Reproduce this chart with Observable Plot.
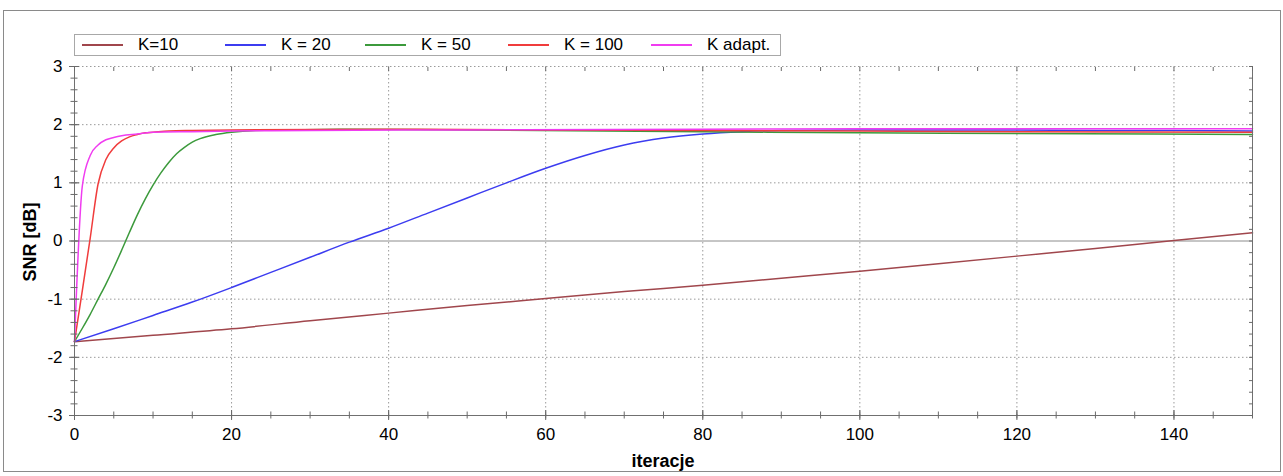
<!DOCTYPE html>
<html><head><meta charset="utf-8">
<script src="https://cdn.jsdelivr.net/npm/d3@7"></script>
<script src="https://cdn.jsdelivr.net/npm/@observablehq/plot@0.6"></script>
<style>
body{margin:0;background:#fff;font-family:"Liberation Sans",Arial,sans-serif;}
#wrap{position:relative;width:1283px;height:476px;overflow:hidden;}
#frame{position:absolute;left:3px;top:10px;width:1278px;height:462px;border:1px solid #8a8a8a;box-sizing:border-box;}
#chart{position:absolute;left:0;top:0;}
#legend{position:absolute;left:74px;top:34px;width:707px;height:22px;border:1px solid #a8a8a8;box-sizing:border-box;font-size:17px;background:#fff;}
.item{position:absolute;top:0;height:20px;display:flex;align-items:center;white-space:nowrap;}
.sw{width:41px;height:1.6px;margin-right:15px;}
.lab{position:absolute;font-weight:bold;font-size:18px;white-space:nowrap;}
</style></head>
<body>
<div id="wrap">
  <div id="frame"></div>
  <div id="chart"></div>
  <div id="legend"></div>
  <div class="lab" id="ylab" style="left:30px;top:242px;transform:translate(-50%,-50%) rotate(-90deg);">SNR [dB]</div>
  <div class="lab" id="xlab" style="left:663px;top:461px;transform:translate(-50%,-50%);">iteracje</div>
</div>
<script>
// ---- data ----
const seriesNames = ["K=10", "K = 20", "K = 50", "K = 100", "K adapt."];
const seriesColors = ["#a0464c", "#3c3cf0", "#3c9a3c", "#f03c3c", "#f03cf0"];

const iterK10 = [0,10,20,30,40,50,60,70,80,90,100,110,120,130,140,150];
const snrK10  = [-1.73,-1.62,-1.51,-1.37,-1.24,-1.11,-0.99,-0.87,-0.76,-0.64,-0.52,-0.39,-0.26,-0.13,0.01,0.14];

const iterK20 = [0,5,10,15,20,25,30,35,40,45,50,55,60,65,70,75,80,85,90,100,110,120,130,140,150];
const snrK20  = [-1.73,-1.51,-1.28,-1.05,-0.8,-0.54,-0.28,-0.02,0.22,0.48,0.74,1.0,1.25,1.47,1.65,1.77,1.84,1.88,1.9,1.91,1.91,1.91,1.9,1.9,1.89];

const iterK50 = [0,1,2,3,4,5,6,7,8,9,10,11,12,13,14,15,16,18,20,23,27,35,50,80,100,120,150];
const snrK50  = [-1.73,-1.5,-1.26,-1.0,-0.74,-0.46,-0.16,0.15,0.45,0.72,0.96,1.17,1.35,1.5,1.61,1.7,1.76,1.83,1.87,1.9,1.91,1.92,1.91,1.88,1.86,1.85,1.83];

const iterK100 = [0,1,2,3,4,5,6,7,8,9,10,12,15,20,40,60,80,100,120,150];
const snrK100  = [-1.73,-0.85,0.05,0.98,1.4,1.6,1.72,1.79,1.83,1.86,1.87,1.89,1.9,1.91,1.92,1.91,1.9,1.89,1.88,1.87];

const iterAdapt = [0,1,2,3,4,5,6,8,10,15,20,30,50,80,100,150];
const snrAdapt  = [-1.73,0.95,1.47,1.65,1.74,1.78,1.81,1.84,1.87,1.88,1.89,1.9,1.91,1.92,1.93,1.93];

const xTicks = [0,20,40,60,80,100,120,140];
const xMinor = d3.range(0, 151, 5);
const yTicks = [-3,-2,-1,0,1,2,3];
const yMinor = d3.range(-3, 3.001, 0.2).map(v => +v.toFixed(1));

// ---- table ----
const iters = [iterK10, iterK20, iterK50, iterK100, iterAdapt];
const snrs = [snrK10, snrK20, snrK50, snrK100, snrAdapt];
const rows = [];
seriesNames.forEach((s, i) => iters[i].forEach((x, j) => rows.push({series: s, x, y: snrs[i][j]})));

const grid = {stroke: "#9a9a9a", strokeOpacity: 1, strokeDasharray: "1.5,2.5"};
const noText = () => "";
const fmt = d => String(d);
const tk = {stroke: "#6a6a6a", tickFormat: noText, label: null};
const edge = {stroke: "#707070", strokeOpacity: 1};

const plot = Plot.plot({
  width: 1283, height: 476,
  marginLeft: 74, marginRight: 31, marginTop: 66, marginBottom: 61,
  x: {domain: [0, 150]},
  y: {domain: [-3, 3]},
  color: {domain: seriesNames, range: seriesColors},
  style: {fontFamily: "Liberation Sans, Arial, sans-serif", fontSize: "17px", color: "#000", background: "transparent"},
  marks: [
    Plot.gridX(xTicks.filter(v => v > 0), grid),
    Plot.gridY(yTicks.filter(v => v !== 0 && v > -3), grid),
    Plot.ruleY([0], {stroke: "#8c8c8c", strokeWidth: 1}),
    Plot.line(rows, {x: "x", y: "y", z: "series", stroke: "series", curve: "monotone-x", strokeWidth: 1.5}),
    Plot.frame({...edge, anchor: "left"}),
    Plot.frame({...edge, anchor: "bottom"}),
    Plot.frame({...edge, anchor: "right"}),
    // labels
    Plot.axisX(xTicks, {anchor: "bottom", tickSize: 0, tickPadding: 12, tickFormat: fmt, label: null}),
    Plot.axisY(yTicks, {anchor: "left", tickSize: 0, tickPadding: 12, tickFormat: fmt, label: null}),
    // straddling ticks
    Plot.axisX(xTicks, {...tk, anchor: "bottom", tickSize: 10, dy: -5}),
    Plot.axisX(xMinor, {...tk, anchor: "bottom", tickSize: 7, dy: -3.5}),
    Plot.axisX(xMinor, {...tk, anchor: "top", tickSize: 4, dy: 4}),
    Plot.axisY(yTicks, {...tk, anchor: "left", tickSize: 10, dx: 5}),
    Plot.axisY(yMinor, {...tk, anchor: "left", tickSize: 7, dx: 3.5}),
    Plot.axisY(yMinor, {...tk, anchor: "right", tickSize: 4, dx: -4})
  ]
});
document.getElementById("chart").appendChild(plot);

// ---- legend ----
const legendLeft = [7, 150, 290, 433, 576];
const legend = document.getElementById("legend");
seriesNames.forEach((s, i) => {
  const it = document.createElement("div");
  it.className = "item";
  it.style.left = legendLeft[i] + "px";
  const sw = document.createElement("div");
  sw.className = "sw";
  sw.style.background = seriesColors[i];
  const tx = document.createElement("span");
  tx.textContent = s;
  it.appendChild(sw); it.appendChild(tx);
  legend.appendChild(it);
});
</script>
</body></html>
